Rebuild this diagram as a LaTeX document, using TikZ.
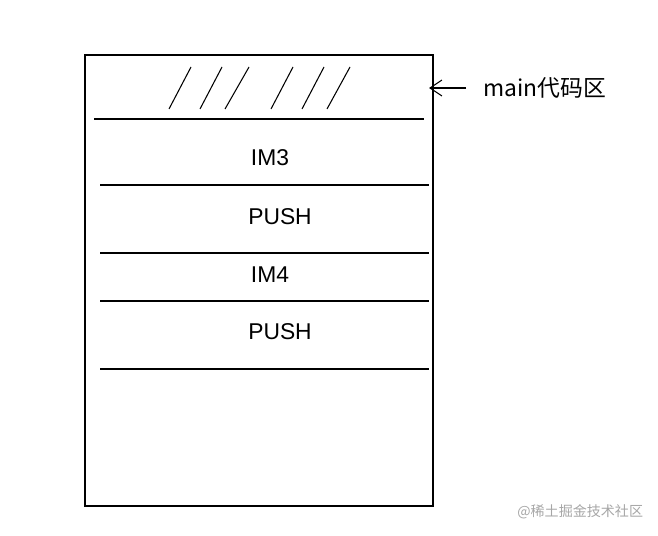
\documentclass[tikz,border=0pt]{standalone}
\usepackage{fontspec}
\usetikzlibrary{arrows.meta}
\setmainfont{Liberation Sans}
\newfontfamily\cjk{Noto Sans CJK SC}
\begin{document}
\begin{tikzpicture}[x=0.02cm,y=-0.02cm,font=\fontsize{13}{15}\selectfont]
      \useasboundingbox (0,0) rectangle (658,536);
      \draw[line width=1.1pt] (85,55) rectangle (433,506);
      \foreach \xa/\xb in {169/191,200/222,225/249,271/293,302/324,327/350} {
        \draw[line width=0.6pt] (\xa,109) -- (\xb,67);
      }
      \draw[line width=0.8pt] (94,119) -- (424,119);
      \foreach \y in {185,253,301,369} {
        \draw[line width=0.8pt] (100,\y) -- (429,\y);
      }
      \node (im3) at (270,158) {IM3};
      \node (push1) at (280,217) {PUSH};
      \node (im4) at (270,275) {IM4};
      \node (push2) at (280,332) {PUSH};
      \node[right,inner sep=0pt] (lbl) at (483,88) {\cjk main代码区};
      \coordinate (tip) at (429,88);
      \draw[-{Straight Barb[length=2.4mm,width=3.2mm]},line width=0.6pt,shorten <=0.34cm] (lbl.west) -- (tip);
      \node[right,inner sep=0pt,text=black!35,font=\cjk\fontsize{8}{10}\selectfont] (wm) at (517,512) {@稀土掘金技术社区};
    \end{tikzpicture}
\end{document}
